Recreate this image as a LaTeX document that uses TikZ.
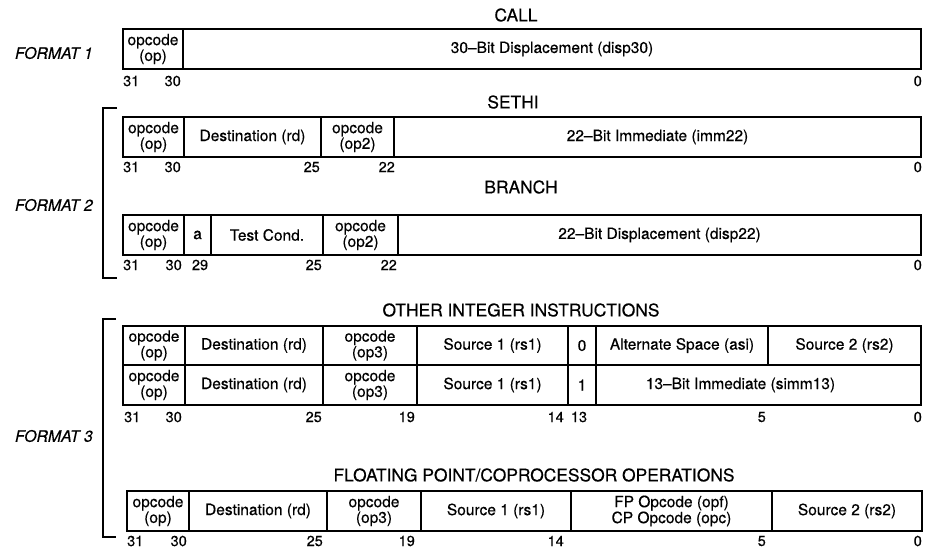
\documentclass[tikz,border=0pt]{standalone}
\usepackage{fontspec}
\setmainfont{TeX Gyre Heros}[FakeBold=0.4]
\tikzset{
  cellbox/.style={draw, line width=1.4pt, inner sep=0pt, align=center,
    font=\fontsize{15.5}{12.5}\selectfont},
  bitnum/.style={inner sep=0pt, font=\fontsize{14.5}{14.5}\selectfont},
  title/.style={inner sep=0pt, font=\fontsize{17.4}{18}\selectfont},
  fmt/.style={inner sep=0pt, anchor=east, font=\fontsize{15.8}{16}\selectfont\itshape},
  bracket/.style={line width=2pt}
}
\newcommand\fcell[6]{%
  \pgfmathsetmacro\fcw{#3-#2}\pgfmathsetmacro\fch{#5-#4}%
  \node[cellbox, minimum width=\fcw pt, minimum height=\fch pt] (#1) at ({(#2+#3)/2},{(#4+#5)/2}) {#6};}
\begin{document}
\begin{tikzpicture}[x=1pt,y=-1pt]
\fill[white] (0,0) rectangle (931,549);
\useasboundingbox (0,0) rectangle (931,549);

% ---------- FORMAT 1 ----------
\node[fmt] (f1) at (93,53) {FORMAT 1};
\node[title] (tcall) at (516,15) {CALL};
\fcell{c_op}{123}{183}{29}{69}{opcode\\(op)}
\fcell{c_disp}{183}{921}{29}{69}{30–Bit Displacement (disp30)}
\node[bitnum,anchor=west] (c31) at (123,81) {31};
\node[bitnum,anchor=east] (c30) at (181,81) {30};
\node[bitnum,anchor=east] (c0) at (922,81) {0};

% ---------- FORMAT 2 ----------
\node[fmt] (f2) at (93,205) {FORMAT 2};
\draw[bracket] (117,108) -- (103,108) -- (103,278) -- (117,278);
\node[title] (tsethi) at (513,102) {SETHI};
\fcell{s_op}{123}{184}{117}{157}{opcode\\(op)}
\fcell{s_rd}{184}{321}{117}{157}{Destination (rd)}
\fcell{s_op2}{321}{394}{117}{157}{opcode\\(op2)}
\fcell{s_imm}{394}{921}{117}{157}{22–Bit Immediate (imm22)}
\node[bitnum,anchor=west] (s31) at (123,167) {31};
\node[bitnum,anchor=east] (s30) at (181,167) {30};
\node[bitnum,anchor=east] (s25) at (320,167) {25};
\node[bitnum,anchor=east] (s22) at (395,167) {22};
\node[bitnum,anchor=east] (s0) at (922,167) {0};

\node[title] (tbranch) at (521,187) {BRANCH};
\fcell{b_op}{123}{184}{215}{255}{opcode\\(op)}
\fcell{b_a}{184}{211}{215}{255}{a}
\fcell{b_cond}{211}{323}{215}{255}{Test Cond.}
\fcell{b_op2}{323}{398}{215}{255}{opcode\\(op2)}
\fcell{b_disp}{398}{921}{215}{255}{22–Bit Displacement (disp22)}
\node[bitnum,anchor=west] (b31) at (123,265) {31};
\node[bitnum,anchor=east] (b30) at (182,265) {30};
\node[bitnum] (b29) at (200,265) {29};
\node[bitnum,anchor=east] (b25) at (322,265) {25};
\node[bitnum,anchor=east] (b22) at (397,265) {22};
\node[bitnum,anchor=east] (b0) at (922,265) {0};

% ---------- FORMAT 3 ----------
\node[fmt] (f3) at (93,436) {FORMAT 3};
\draw[bracket] (116,319) -- (103,319) -- (103,537) -- (116,537);
\node[title] (tother) at (521,310) {OTHER INTEGER INSTRUCTIONS};
\fcell{r1_op}{123}{185}{326}{365}{opcode\\(op)}
\fcell{r1_rd}{185}{323}{326}{365}{Destination (rd)}
\fcell{r1_op3}{323}{417}{326}{365}{opcode\\(op3)}
\fcell{r1_rs1}{417}{568}{326}{365}{Source 1 (rs1)}
\fcell{r1_i}{568}{596}{326}{365}{0}
\fcell{r1_asi}{596}{768}{326}{365}{Alternate Space (asi)}
\fcell{r1_rs2}{768}{921}{326}{365}{Source 2 (rs2)}
\fcell{r2_op}{123}{185}{365}{405}{opcode\\(op)}
\fcell{r2_rd}{185}{323}{365}{405}{Destination (rd)}
\fcell{r2_op3}{323}{417}{365}{405}{opcode\\(op3)}
\fcell{r2_rs1}{417}{568}{365}{405}{Source 1 (rs1)}
\fcell{r2_i}{568}{596}{365}{405}{1}
\fcell{r2_simm}{596}{921}{365}{405}{13–Bit Immediate (simm13)\hspace*{36pt}}
\node[bitnum,anchor=west] (r31) at (124,417) {31};
\node[bitnum,anchor=east] (r30) at (182,417) {30};
\node[bitnum,anchor=east] (r25) at (322,417) {25};
\node[bitnum,anchor=east] (r19) at (415,417) {19};
\node[bitnum,anchor=east] (r14) at (564,417) {14};
\node[bitnum] (r13) at (579,417) {13};
\node[bitnum,anchor=east] (r5) at (766,417) {5};
\node[bitnum,anchor=east] (r0) at (922,417) {0};

\node[title] (tfp) at (534,475) {FLOATING POINT/COPROCESSOR OPERATIONS};
\fcell{p_op}{127}{189}{491}{531}{opcode\\(op)}
\fcell{p_rd}{189}{327}{491}{531}{Destination (rd)}
\fcell{p_op3}{327}{421}{491}{531}{opcode\\(op3)}
\fcell{p_rs1}{421}{571}{491}{531}{Source 1 (rs1)}
\fcell{p_opf}{571}{772}{491}{531}{FP Opcode (opf)\\CP Opcode (opc)}
\fcell{p_rs2}{772}{922}{491}{531}{Source 2 (rs2)}
\node[bitnum,anchor=west] (p31) at (127,541) {31};
\node[bitnum,anchor=east] (p30) at (187,541) {30};
\node[bitnum,anchor=east] (p25) at (323,541) {25};
\node[bitnum,anchor=east] (p19) at (415,541) {19};
\node[bitnum,anchor=east] (p14) at (564,541) {14};
\node[bitnum,anchor=east] (p5) at (766,541) {5};
\node[bitnum,anchor=east] (p0) at (922,541) {0};
\end{tikzpicture}
\end{document}
